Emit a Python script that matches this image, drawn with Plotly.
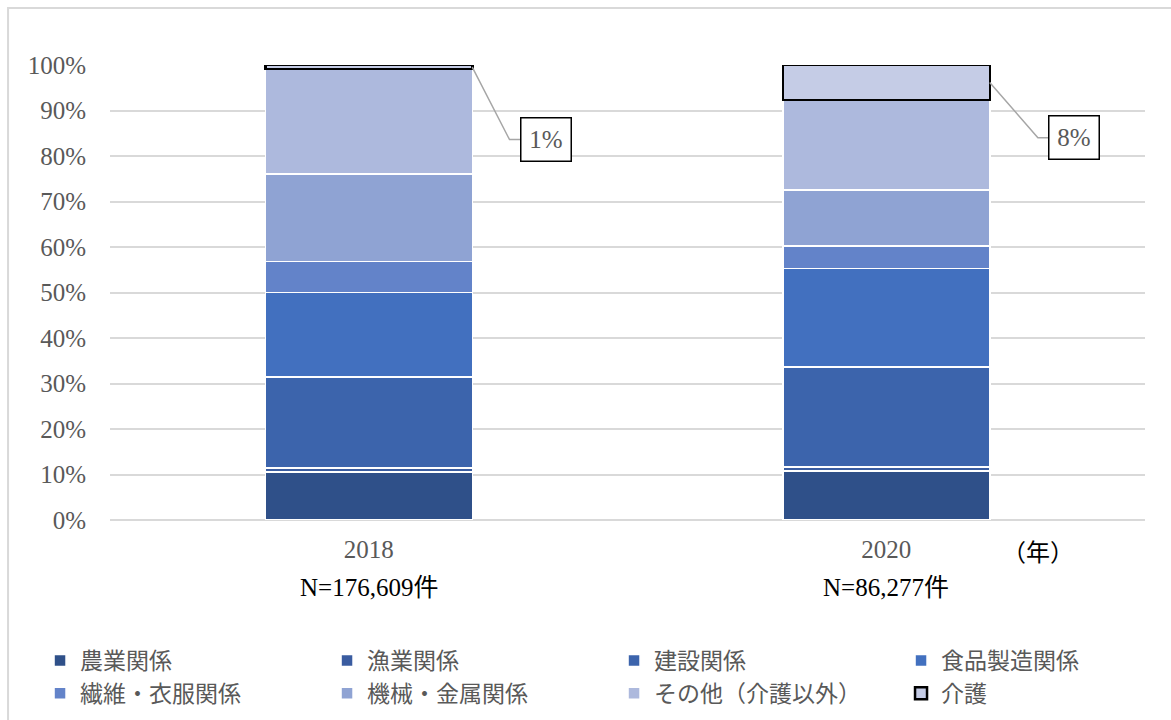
import plotly.graph_objects as go

# ---- data ----
years = ["2018", "2020"]
n_labels = ["N=176,609件", "N=86,277件"]
series_names = ["農業関係", "漁業関係", "建設関係", "食品製造関係",
                "繊維・衣服関係", "機械・金属関係", "その他（介護以外）", "介護"]
agri = [10.6, 10.8]
fish = [0.8, 0.8]
constr = [20.0, 22.0]
food = [18.6, 21.7]
textile = [6.8, 4.9]
machine = [19.3, 12.3]
other = [23.0, 19.8]
care = [0.9, 7.7]
y_ticks = [0, 10, 20, 30, 40, 50, 60, 70, 80, 90, 100]

series_values = [agri, fish, constr, food, textile, machine, other, care]
colors = ["#2F5089", "#3A5CA0", "#3C64AC", "#4270BF",
          "#6383C9", "#8FA3D3", "#ADB9DD", "#C5CCE6"]

FONT = "Liberation Serif, Noto Sans CJK JP"
JP = "Noto Sans CJK JP, Liberation Serif"
GRAY = "#595959"

fig = go.Figure()
for name, vals, col in zip(series_names, series_values, colors):
    is_care = name == "介護"
    fig.add_trace(go.Bar(
        x=years, y=vals, name=name,
        marker=dict(color=col,
                    line=dict(color="#000000" if is_care else "#FFFFFF",
                              width=2.5 if is_care else 1.5)),
    ))

# callouts for 介護 share (offsets from bar edge, category units)
elbow_dx = [0.072, 0.093]
box_left_dx = [0.094, 0.114]
box_w_dx = 0.098
label_y = [83.6, 84.0]
bar_half = 0.2
for i, v in enumerate(care):
    y0 = 100 - v / 2
    x0 = i + bar_half
    fig.add_shape(type="path",
                  path=f"M {x0},{y0} L {x0 + elbow_dx[i]},{label_y[i]} L {x0 + box_left_dx[i]},{label_y[i]}",
                  xref="x", yref="y", line=dict(color="#A6A6A6", width=1.5))
    fig.add_annotation(x=x0 + box_left_dx[i] + box_w_dx / 2, y=label_y[i], xref="x", yref="y",
                       text=f"{round(v)}%", showarrow=False,
                       font=dict(family=FONT, size=25, color=GRAY),
                       bordercolor="#000000", borderwidth=1.5, borderpad=0,
                       width=49, height=42, bgcolor="#FFFFFF")

# N labels under year ticks
for i, t in enumerate(n_labels):
    fig.add_annotation(x=i, y=-0.148, xref="x", yref="paper", text=t,
                       showarrow=False, yanchor="middle",
                       font=dict(family=FONT, size=25, color="#000000"))
fig.add_annotation(x=0.933, y=-0.068, xref="paper", yref="paper", text="（年）",
                   showarrow=False, xanchor="right", yanchor="middle",
                   font=dict(family=JP, size=24, color="#000000"))

# outer border
fig.add_shape(type="rect", xref="paper", yref="paper",
              x0=-0.0985, y0=-0.5, x1=1.2, y1=1.1253,
              line=dict(color="#D9D9D9", width=2), layer="below")

fig.update_layout(
    width=1171, height=720,
    margin=dict(l=110, r=26, t=65, b=200, autoexpand=False),
    barmode="stack", bargap=0.6,
    plot_bgcolor="#FFFFFF", paper_bgcolor="#FFFFFF",
    font=dict(family=FONT, color=GRAY),
    showlegend=True,
    legend=dict(orientation="h", x=-0.0676, xanchor="left",
                y=-0.2615, yanchor="top", traceorder="normal",
                entrywidth=242, itemwidth=30, tracegroupgap=0,
                font=dict(family=JP, size=23, color=GRAY),
                bgcolor="rgba(0,0,0,0)"),
    xaxis=dict(type="category", showgrid=False, showline=False, ticks="",
               tickfont=dict(family=FONT, size=25, color=GRAY),
               ticklabelstandoff=12),
    yaxis=dict(range=[0, 100], tickvals=y_ticks,
               ticktext=[f"{v}%" for v in y_ticks],
               showgrid=True, gridcolor="#D9D9D9", gridwidth=1.5,
               zeroline=True, zerolinecolor="#D9D9D9", zerolinewidth=1.5,
               showline=False, ticks="",
               tickfont=dict(family=FONT, size=25, color=GRAY),
               ticklabelstandoff=23),
)

fig.write_html("out.html")
